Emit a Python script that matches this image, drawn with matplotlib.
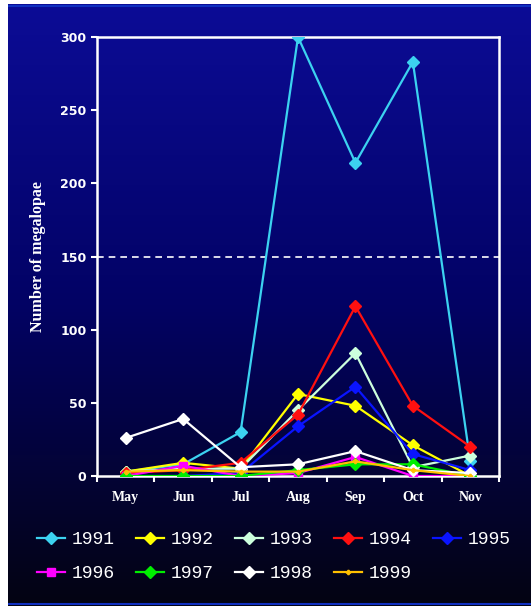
import numpy as np
import matplotlib
matplotlib.use('Agg')
import matplotlib.pyplot as plt

# months sampled
months = ['May', 'Jun', 'Jul', 'Aug', 'Sep', 'Oct', 'Nov']

# number of megalopae per month
y1991 = [3, 8, 30, 300, 214, 283, 10]
y1992 = [3, 9, 5, 56, 48, 21, 0]
y1993 = [3, 5, 5, 45, 84, 6, 14]
y1994 = [2, 4, 9, 42, 116, 48, 20]
y1995 = [0, 0, 2, 34, 61, 15, 4]
y1996 = [0, 7, 0, 2, 13, 0, 0]
y1997 = [0, 0, 0, 4, 8, 8, 0]
y1998 = [26, 39, 6, 8, 17, 4, 2]
y1999 = [3, 4, 3, 3, 10, 4, 0]

years = ['1991', '1992', '1993', '1994', '1995', '1996', '1997', '1998', '1999']
series = [y1991, y1992, y1993, y1994, y1995, y1996, y1997, y1998, y1999]
colors = ['#3cd2f0', '#ffff00', '#ccffdd', '#ff1010', '#0a14ff',
          '#ff00ff', '#00ee00', '#ffffff', '#ffc000']
markers = ['D', 'D', 'D', 'D', 'D', 's', 'D', 'D', 'P']
msizes = [6, 6, 6, 6, 6, 6, 6, 6, 3]

fig = plt.figure(figsize=(5.31, 6.08), dpi=100)
fig.patch.set_facecolor('white')

# gradient panel behind everything (row 0 = top)
bg = fig.add_axes([8 / 531, 2 / 608, 1 - 8 / 531, 1 - 6 / 608])
grad = np.linspace(0, 1, 256)
top = np.array([12, 12, 150]) / 255
mid = np.array([2, 2, 100]) / 255
bot = np.array([4, 4, 18]) / 255
rgb = np.zeros((256, 1, 3))
for k in range(3):
    rgb[:, 0, k] = np.interp(grad, [0, 0.5, 1], [top[k], mid[k], bot[k]])
bg.imshow(rgb, aspect='auto', extent=[0, 1, 0, 1], origin='upper')
bg.set_xlim(0, 1)
bg.set_ylim(0, 1)
bg.axis('off')
for y in [0.003, 0.997]:
    bg.axhline(y, color='#1030c0', lw=1.5)

ax = fig.add_axes([97 / 531, 1 - 476 / 608, 402 / 531, 439 / 608])
ax.patch.set_alpha(0)
x = np.arange(len(months))

ax.axhline(150, color='white', lw=1.2, ls=(0, (4, 3)), zorder=1)

handles = []
for name, vals, c, m, ms in zip(years, series, colors, markers, msizes):
    h, = ax.plot(x, vals, color=c, marker=m, markersize=ms, lw=1.6,
                 markeredgecolor=c, label=name, zorder=3)
    handles.append(h)

ax.set_xlim(-0.5, 6.5)
ax.set_ylim(0, 300)
ax.set_yticks([0, 50, 100, 150, 200, 250, 300])
ax.set_xticks(x)
ax.set_xticklabels(months, fontfamily='Liberation Serif', fontweight='bold',
                   fontsize=10, color='white')
ax.set_xticks(np.arange(-0.5, 7, 1), minor=True)
ax.tick_params(axis='x', which='major', length=0, pad=11)
ax.tick_params(axis='x', which='minor', length=4, width=1.5, color='white',
               direction='out')
ax.tick_params(axis='y', length=4, width=1.5, color='white', direction='out',
               labelsize=9, labelcolor='white')
for lab in ax.get_yticklabels():
    lab.set_fontweight('bold')

for s in ax.spines.values():
    s.set_color('white')
    s.set_linewidth(1.8)

ax.set_ylabel('Number of megalopae', fontfamily='Liberation Serif',
              fontweight='bold', fontsize=11.5, color='white', labelpad=10)

# legend filled row by row: reorder for matplotlib's column filling
order = [0, 5, 1, 6, 2, 7, 3, 8, 4]
leg = fig.legend([handles[i] for i in order], [years[i] for i in order],
                 ncol=5, loc='upper left', bbox_to_anchor=(30 / 531, 1 - 524 / 608),
                 frameon=False, prop={'family': 'Liberation Mono', 'size': 13},
                 handlelength=1.55, handletextpad=0.35, columnspacing=1.2,
                 labelspacing=0.95, borderaxespad=0)
for t in leg.get_texts():
    t.set_color('white')

fig.savefig('out.png', dpi=100)
